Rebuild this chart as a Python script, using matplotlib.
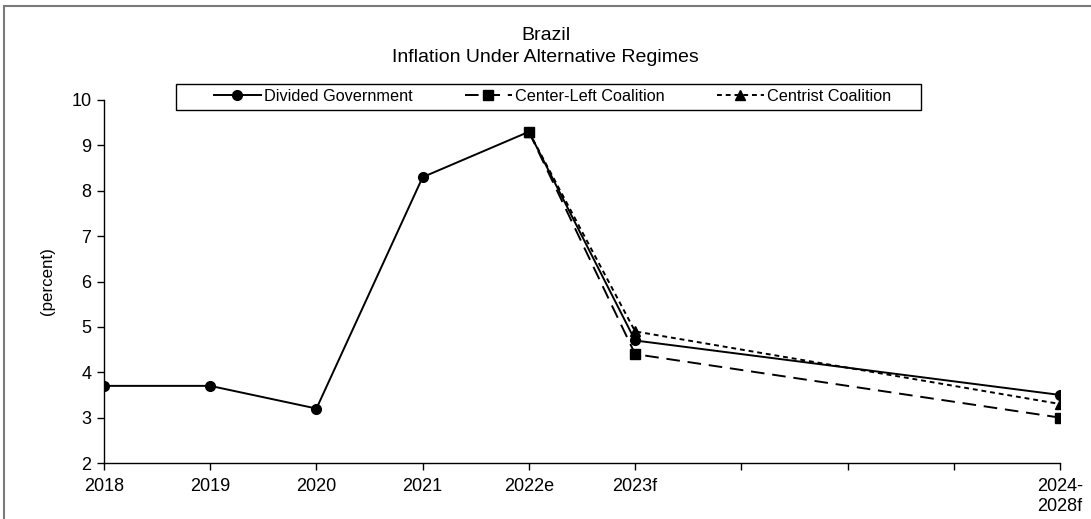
import matplotlib
matplotlib.use("Agg")
import matplotlib.pyplot as plt
from matplotlib.patches import Rectangle

plt.rcParams['font.family'] = ['Liberation Sans', 'DejaVu Sans']

categories = ["2018", "2019", "2020", "2021", "2022e", "2023f", "", "", "", "2024-\n2028f"]

divided_x = [0, 1, 2, 3, 4, 5, 9]
divided = [3.7, 3.7, 3.2, 8.3, 9.3, 4.7, 3.5]

center_left_x = [4, 5, 9]
center_left = [9.3, 4.4, 3.0]

centrist_x = [4, 5, 9]
centrist = [9.3, 4.9, 3.3]

W, H = 1091, 519
fig = plt.figure(figsize=(W / 100, H / 100), dpi=100)
ax = fig.add_axes([104 / W, 1 - 463 / H, (1060 - 104) / W, (463 - 100) / H])

lw = 1.4
ax.plot(divided_x, divided, color="black", lw=lw, marker="o", ms=7,
        label="Divided Government", zorder=3)
ax.plot(centrist_x, centrist, color="black", lw=lw, marker="^", ms=7,
        dashes=(2.5, 2), label="Centrist Coalition", zorder=4)
ax.plot(center_left_x, center_left, color="black", lw=lw, marker="s", ms=6.5,
        dashes=(7, 4), label="Center-Left Coalition", zorder=5)

ax.set_xlim(0, 9)
ax.set_ylim(2, 10)
ax.set_xticks(range(len(categories)))
ax.set_xticklabels(categories, fontsize=13, linespacing=1.2)
ax.set_yticks(range(2, 11))
ax.tick_params(axis="both", direction="out", length=5, width=1, labelsize=13)
ax.tick_params(axis="x", pad=6)
ax.tick_params(axis="y", pad=4)
for side in ("top", "right"):
    ax.spines[side].set_visible(False)
for side in ("left", "bottom"):
    ax.spines[side].set_linewidth(1.0)
ax.set_ylabel("(percent)", fontsize=12.2, labelpad=12)

# legend entries, with a separate box drawn around them
handles, labels = ax.get_legend_handles_labels()
order = [0, 2, 1]
leg = fig.legend([handles[i] for i in order], [labels[i] for i in order],
                 loc="center", bbox_to_anchor=(552.5 / W, 1 - 96.5 / H),
                 ncol=3, frameon=False, fontsize=11.7,
                 handlelength=2.9, handletextpad=0.2, columnspacing=3.2,
                 borderpad=0.2)
fig.patches.append(Rectangle((176 / W, 1 - 109.5 / H), (921 - 176) / W, 25.5 / H,
                             transform=fig.transFigure, fill=False,
                             edgecolor="black", lw=1.0))

fig.text(0.5, 1 - 35 / H, "Brazil", ha="center", va="center", fontsize=14)
fig.text(0.5, 1 - 57 / H, "Inflation Under Alternative Regimes", ha="center",
         va="center", fontsize=14)

# outer chart border
fig.patches.append(Rectangle((4 / W, -0.05), 1.1, 1 - 6 / H + 0.05,
                             transform=fig.transFigure, fill=False,
                             edgecolor="#7a7a7a", lw=1.5))

fig.savefig("out.png", dpi=100)
